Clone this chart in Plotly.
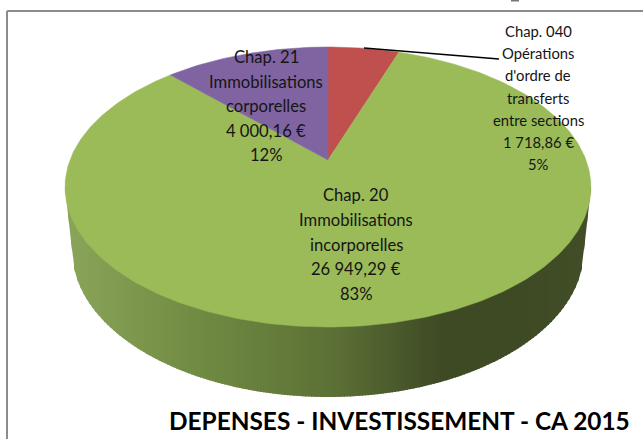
import math
import plotly.graph_objects as go

category_lines = [["Chap. 040", "Opérations", "d'ordre de", "transferts", "entre sections"],
                  ["Chap. 20", "Immobilisations", "incorporelles"],
                  ["Chap. 21", "Immobilisations", "corporelles"]]
values = [1718.86, 26949.29, 4000.16]
value_labels = ["1 718,86 €", "26 949,29 €", "4 000,16 €"]
pct_labels = ["5%", "83%", "12%"]
colors = ["#c0504d", "#9bbb59", "#8064a2"]
title = "DEPENSES - INVESTISSEMENT - CA 2015"

# projection of the tilted disc (page pixels)
CX, CY, B, A, K = 328, 160, 258, 134.8, 0.193
def proj(t):
    u, v = math.sin(t), math.cos(t)
    d = 1 + K * v
    return CX + B * u / d, CY - A * v / d

def lerp(c1, c2, f):
    return "rgb(%d,%d,%d)" % tuple(round(a + (b - a) * f) for a, b in zip(c1, c2))

fig = go.Figure()

# side wall of the disc, as vertical gradient strips
def bot_edge(x):
    d = abs(x - 328)
    if d >= 256:
        return 250 - (d - 256) / 7 * 63
    return 250 + 147 * math.sqrt(1 - (d / 256) ** 2)
stops = [(65, (138, 164, 88)), (200, (112, 138, 66)), (330, (92, 113, 54)),
         (440, (62, 74, 36)), (520, (62, 74, 36)), (592, (66, 78, 38))]
def shade(x):
    for (x0, c0), (x1, c1) in zip(stops, stops[1:]):
        if x <= x1:
            return lerp(c0, c1, (x - x0) / (x1 - x0))
    return lerp(stops[-1][1], stops[-1][1], 0)
for x in range(65, 591, 3):
    x2 = min(x + 4, 591)
    fig.add_trace(go.Scatter(x=[x, x2, x2, x], y=[187, 187, bot_edge(x2), bot_edge(x)],
                             mode="lines", fill="toself", fillcolor=shade(x), line=dict(width=0),
                             hoverinfo="skip", showlegend=False))

# wedges, clockwise from 12 o'clock
total = sum(values)
start = 0.0
for val, col in zip(values, colors):
    end = start + val / total * 2 * math.pi
    n = max(4, int((end - start) * 60))
    pts = [proj(start + (end - start) * i / n) for i in range(n + 1)]
    px = [CX] + [p[0] for p in pts] + [CX]
    py = [CY] + [p[1] for p in pts] + [CY]
    fig.add_trace(go.Scatter(x=px, y=py, mode="lines", fill="toself", fillcolor=col,
                             line=dict(width=0.5, color=col), hoverinfo="skip", showlegend=False))
    start = end

# data labels, one line at a time (x, y of first line, line spacing, font size)
label_pos = [(538, 31, 22.2, 14.8), (356, 195, 24.8, 16.6), (266, 57, 24.5, 16.6)]
for lines, vl, pc, (lx, ly, dy, fs) in zip(category_lines, value_labels, pct_labels, label_pos):
    for i, line in enumerate(lines + [vl, pc]):
        fig.add_annotation(x=lx, y=ly + i * dy, text=line, showarrow=False,
                           font=dict(family="Lato", size=fs, color="#151515"),
                           xanchor="center", yanchor="middle")
fig.add_trace(go.Scatter(x=[364, 494, 499], y=[48, 59, 59], mode="lines",
                         line=dict(color="black", width=1.6), hoverinfo="skip", showlegend=False))
fig.add_annotation(x=632, y=420, text=f"<b>{title}</b>", showarrow=False, xanchor="right", yanchor="middle",
                   font=dict(family="Lato", size=24.4, color="black"))

frame = dict(type="line", xref="x", yref="y", line=dict(color="#8c8c8c", width=2), layer="below")
fig.update_layout(
    width=643, height=439, margin=dict(l=0, r=0, t=0, b=0),
    paper_bgcolor="white", plot_bgcolor="white", showlegend=False,
    xaxis=dict(range=[0, 643], visible=False, fixedrange=True),
    yaxis=dict(range=[439, 0], visible=False, fixedrange=True),
    shapes=[dict(frame, x0=7, y0=11, x1=643, y1=11),
            dict(frame, x0=7, y0=11, x1=7, y1=439),
            dict(type="rect", xref="x", yref="y", x0=511, y0=0, x1=519, y1=1.5,
                 line=dict(width=0), fillcolor="#777777", layer="below")],
)
fig.write_html("out.html", config={"displayModeBar": False},
               post_script="document.body.style.margin='0';document.documentElement.style.overflow='hidden';")
